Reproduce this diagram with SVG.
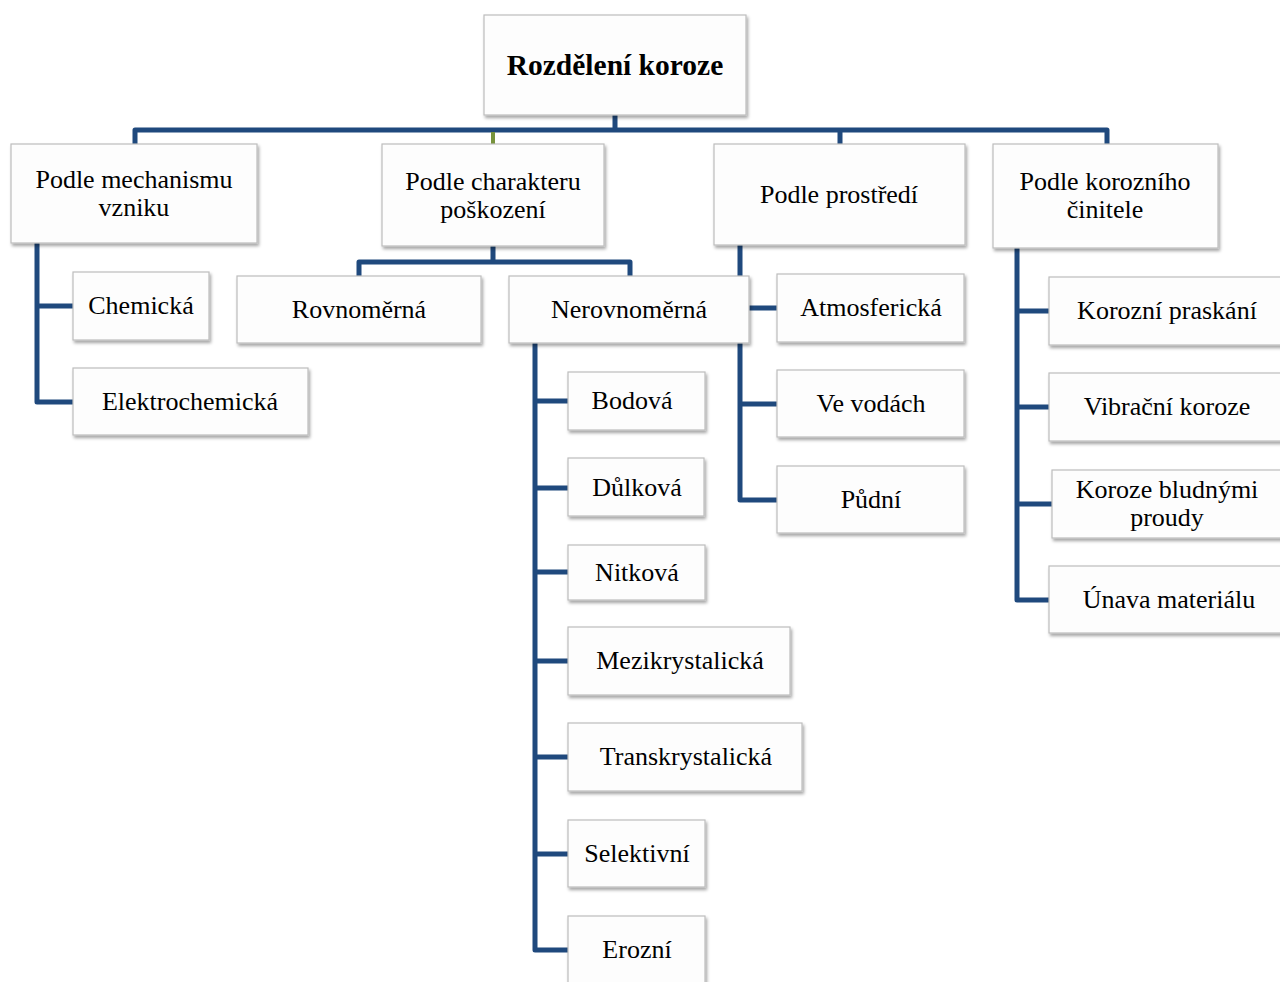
<svg xmlns="http://www.w3.org/2000/svg" width="1280" height="982" viewBox="0 0 1280 982">
<defs>
<filter id="sh" x="-10%" y="-10%" width="130%" height="140%">
<feDropShadow dx="1.5" dy="2.5" stdDeviation="1.5" flood-color="#000" flood-opacity="0.35"/>
</filter>
<style>
.c{fill:none;stroke:#1f497d;stroke-width:5;stroke-linejoin:round;stroke-linecap:butt}
.g{fill:none;stroke:#77933c;stroke-width:4}
.b{fill:#fdfdfd;stroke:#bdbdbd;stroke-width:1.2;filter:url(#sh)}
text{font-family:"Liberation Serif","Times New Roman",serif;font-size:26px;fill:#000;text-anchor:middle;dominant-baseline:central}
.r{font-weight:bold;font-size:29.5px}
</style>
</defs>
<rect width="1280" height="982" fill="#fff"/>
<g id="connectors">
<path class="c" d="M615 115V130M135 144V130H1107V144M840 130V144"/>
<path class="g" d="M493 132V144"/>
<path class="c" d="M37 243V402H73M37 306H73"/>
<path class="c" d="M493 246V262M359 276V262H630V276"/>
<path class="c" d="M535 343V950H568M535 401H568M535 488H568M535 572H568M535 661H568M535 757H568M535 854H568"/>
<path class="c" d="M740 245V500H777M740 308H777M740 404H777"/>
<path class="c" d="M1017 248V600H1049M1017 311H1049M1017 407H1049M1017 504H1052"/>
</g>
<g id="root"><rect class="b" x="484" y="15" width="262" height="100"/><text class="r" x="615" y="65">Rozdělení koroze</text></g>
<g id="mech"><rect class="b" x="11" y="144" width="246" height="99"/><text x="134" y="179">Podle mechanismu</text><text x="134" y="207">vzniku</text></g>
<g id="char"><rect class="b" x="382" y="144" width="222" height="102"/><text x="493" y="181">Podle charakteru</text><text x="493" y="209">poškození</text></g>
<g id="prost"><rect class="b" x="714" y="144" width="251" height="101"/><text x="839" y="194">Podle prostředí</text></g>
<g id="cinitel"><rect class="b" x="993" y="144" width="225" height="104"/><text x="1105" y="181">Podle korozního</text><text x="1105" y="209">činitele</text></g>
<g id="chem"><rect class="b" x="73" y="272" width="136" height="68"/><text x="141" y="305">Chemická</text></g>
<g id="elchem"><rect class="b" x="73" y="368" width="235" height="67"/><text x="190" y="401">Elektrochemická</text></g>
<g id="rovno"><rect class="b" x="237" y="276" width="244" height="67"/><text x="359" y="309">Rovnoměrná</text></g>
<g id="nerovno"><rect class="b" x="509" y="276" width="240" height="67"/><text x="629" y="309">Nerovnoměrná</text></g>
<g id="bodova"><rect class="b" x="568" y="372" width="137" height="58"/><text x="632" y="400">Bodová</text></g>
<g id="dulkova"><rect class="b" x="568" y="458" width="136" height="58"/><text x="637" y="487">Důlková</text></g>
<g id="nitkova"><rect class="b" x="568" y="545" width="137" height="55"/><text x="637" y="572">Nitková</text></g>
<g id="mezi"><rect class="b" x="568" y="627" width="222" height="68"/><text x="680" y="660">Mezikrystalická</text></g>
<g id="trans"><rect class="b" x="568" y="723" width="234" height="68"/><text x="686" y="756">Transkrystalická</text></g>
<g id="selek"><rect class="b" x="568" y="820" width="137" height="67"/><text x="637" y="853">Selektivní</text></g>
<g id="erozni"><rect class="b" x="568" y="916" width="137" height="80"/><text x="637" y="949">Erozní</text></g>
<g id="atmo"><rect class="b" x="777" y="274" width="187" height="68"/><text x="871" y="307">Atmosferická</text></g>
<g id="voda"><rect class="b" x="777" y="370" width="187" height="67"/><text x="871" y="403">Ve vodách</text></g>
<g id="pudni"><rect class="b" x="777" y="466" width="187" height="67"/><text x="871" y="499">Půdní</text></g>
<g id="prask"><rect class="b" x="1049" y="277" width="240" height="68"/><text x="1167" y="310">Korozní praskání</text></g>
<g id="vibr"><rect class="b" x="1049" y="373" width="240" height="68"/><text x="1167" y="406">Vibrační koroze</text></g>
<g id="blud"><rect class="b" x="1052" y="470" width="240" height="68"/><text x="1167" y="489">Koroze bludnými</text><text x="1167" y="517">proudy</text></g>
<g id="unava"><rect class="b" x="1049" y="566" width="240" height="67"/><text x="1169" y="599">Únava materiálu</text></g>
</svg>
